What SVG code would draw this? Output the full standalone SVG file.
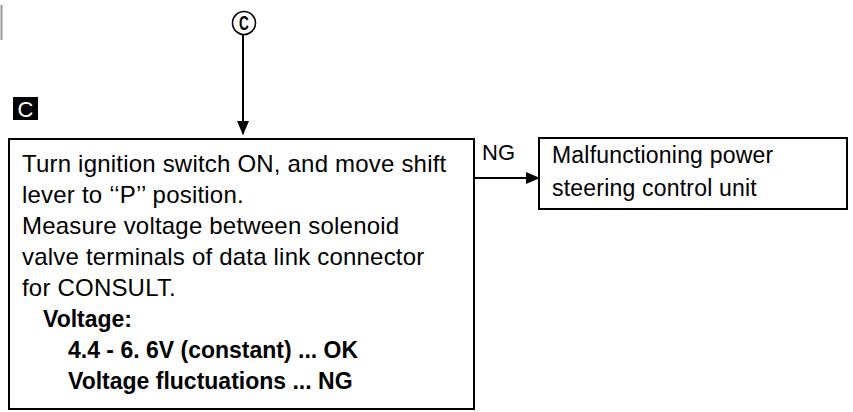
<svg xmlns="http://www.w3.org/2000/svg" width="853" height="412" viewBox="0 0 853 412">
<style>
.box{fill:#fff;stroke:#000;stroke-width:2}
.t{font-family:"Liberation Sans",Arial,sans-serif;font-size:24px;letter-spacing:0.2px;fill:#000}
.b{font-weight:bold;font-size:23px;letter-spacing:0}
.r{font-size:23px}
.ln{stroke:#000;stroke-width:2;fill:none}
</style>
<defs>
<marker id="ah" markerWidth="14" markerHeight="12" refX="13" refY="6" orient="auto" markerUnits="userSpaceOnUse">
<path d="M0,0 L14,6 L0,12 Z" fill="#000"/>
</marker>
</defs>
<rect width="853" height="412" fill="#fff"/>
<line x1="1.5" y1="5" x2="1.5" y2="40" stroke="#999" stroke-width="2"/>
<g id="connector-ref">
<circle cx="244" cy="23" r="11.5" fill="#fff" stroke="#000" stroke-width="1.6"/>
<text x="244" y="30.5" text-anchor="middle" font-family="Liberation Sans,sans-serif" font-weight="bold" font-size="21" transform="translate(244 0) scale(0.65 1) translate(-244 0)">C</text>
</g>
<g id="label-C">
<rect x="13" y="97" width="25" height="23" fill="#000"/>
<text x="25.5" y="116.5" text-anchor="middle" font-family="Liberation Sans,sans-serif" font-size="22" fill="#fff">C</text>
</g>
<g id="connectors">
<line class="ln" x1="243" y1="35" x2="243" y2="134" marker-end="url(#ah)"/>
<line class="ln" x1="474" y1="178" x2="539" y2="178" marker-end="url(#ah)"/>
<text x="482" y="160" font-family="Liberation Sans,Arial,sans-serif" font-size="22">NG</text>
</g>
<g id="node-check">
<rect class="box" x="9" y="139" width="465" height="270"/>
<text class="t" x="22" y="172">Turn ignition switch ON, and move shift</text>
<text class="t" x="22" y="203">lever to ‘‘P’’ position.</text>
<text class="t" x="22" y="234">Measure voltage between solenoid</text>
<text class="t" x="22" y="265">valve terminals of data link connector</text>
<text class="t" x="22" y="296">for CONSULT.</text>
<text class="t b" x="43" y="327">Voltage:</text>
<text class="t b" x="68" y="358">4.4 - 6. 6V (constant) ... OK</text>
<text class="t b" x="68" y="389">Voltage fluctuations ... NG</text>
</g>
<g id="node-ng">
<rect class="box" x="539" y="138" width="308" height="71"/>
<text class="t r" x="552" y="163">Malfunctioning power</text>
<text class="t r" x="552" y="196">steering control unit</text>
</g>
</svg>
